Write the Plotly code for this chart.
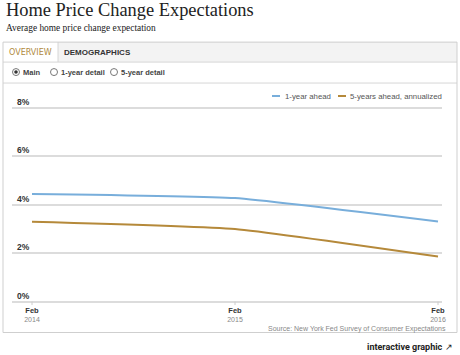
import plotly.graph_objects as go

# ---- data ----
dates = ["Feb 2014", "Feb 2015", "Feb 2016"]
tick_month = ["Feb", "Feb", "Feb"]
tick_year = ["2014", "2015", "2016"]
one_year = [4.45, 4.28, 3.31]
five_year = [3.30, 3.00, 1.86]
series_names = ["1-year ahead", "5-years ahead, annualized"]
series_colors = ["#78aedb", "#b5893a"]
y_ticks = [0, 2, 4, 6, 8]

W, H = 460, 355
PXU = 24.25          # pixels per 1 %
Y0 = 302             # pixel row of 0 %
L, R, T = 12, 442, 100
YMIN = -0.1
B = Y0 - YMIN * PXU


def px(x):
    return (x - L) / (R - L)


def py(y):
    return (B - y) / (B - T)


xi = list(range(len(dates)))
fig = go.Figure()
for name, vals, col in zip(series_names, [one_year, five_year], series_colors):
    fig.add_trace(go.Scatter(x=xi, y=vals, mode="lines", name=name,
                             line=dict(color=col, width=2, shape="spline", smoothing=0.4),
                             hoverinfo="skip"))

shapes = []
annotations = []
SANS = "Liberation Sans, Arial, sans-serif"

# panel chrome
shapes.append(dict(type="rect", xref="paper", yref="paper", x0=px(3), x1=px(457), y0=py(42), y1=py(62),
                   fillcolor="#f3f3f3", line=dict(width=0), layer="below"))
shapes.append(dict(type="rect", xref="paper", yref="paper", x0=px(3), x1=px(58), y0=py(42), y1=py(62),
                   fillcolor="#ffffff", line=dict(width=0), layer="below"))
shapes.append(dict(type="line", xref="paper", yref="paper", x0=px(58), x1=px(58), y0=py(42), y1=py(62),
                   line=dict(color="#d6d6d6", width=1)))
shapes.append(dict(type="line", xref="paper", yref="paper", x0=px(3), x1=px(457), y0=py(62), y1=py(62),
                   line=dict(color="#d6d6d6", width=1)))
shapes.append(dict(type="line", xref="paper", yref="paper", x0=px(3), x1=px(457), y0=py(83), y1=py(83),
                   line=dict(color="#d6d6d6", width=1)))
shapes.append(dict(type="rect", xref="paper", yref="paper", x0=px(3), x1=px(457), y0=py(42), y1=py(333),
                   line=dict(color="#cfcfcf", width=1), fillcolor="rgba(0,0,0,0)"))

# radio buttons
radio_labels = ["Main", "1-year detail", "5-year detail"]
radio_x = [16, 54, 114]
for i, (lab, rx) in enumerate(zip(radio_labels, radio_x)):
    shapes.append(dict(type="circle", xref="paper", yref="paper", x0=px(rx - 3.5), x1=px(rx + 3.5),
                       y0=py(72 + 3.5), y1=py(72 - 3.5), line=dict(color="#777", width=1), fillcolor="white"))
    if i == 0:
        shapes.append(dict(type="circle", xref="paper", yref="paper", x0=px(rx - 1.8), x1=px(rx + 1.8),
                           y0=py(72 + 1.8), y1=py(72 - 1.8), line=dict(width=0), fillcolor="#333"))
    annotations.append(dict(text="<b>" + lab + "</b>", xref="paper", yref="paper", x=px(rx + 5), y=py(72.5),
                            xanchor="left", yanchor="middle", showarrow=False,
                            font=dict(family=SANS, size=7.5, color="#444")))

# tabs
annotations.append(dict(text="OVERVIEW", xref="paper", yref="paper", x=px(30.5), y=py(52), xanchor="center",
                        yanchor="middle", showarrow=False,
                        font=dict(family="DejaVu Sans, sans-serif", size=8, color="#b08a3e")))
annotations.append(dict(text="<b>DEMOGRAPHICS</b>", xref="paper", yref="paper", x=px(97), y=py(52),
                        xanchor="center", yanchor="middle", showarrow=False,
                        font=dict(family=SANS, size=8, color="#333")))

# title & subtitle
SERIF = "Liberation Serif, Times New Roman, serif"
annotations.append(dict(text="Home Price Change Expectations", xref="paper", yref="paper", x=px(4), y=py(10),
                        xanchor="left", yanchor="middle", showarrow=False,
                        font=dict(family=SERIF, size=18.4, color="#222")))
annotations.append(dict(text="Average home price change expectation", xref="paper", yref="paper", x=px(4),
                        y=py(28), xanchor="left", yanchor="middle", showarrow=False,
                        font=dict(family=SERIF, size=9.4, color="#222")))

# legend (manual)
leg_items = [(272, 283, 0), (338, 348, 1)]
for x0, tx, k in leg_items:
    shapes.append(dict(type="line", xref="paper", yref="paper", x0=px(x0), x1=px(x0 + 8), y0=py(96), y1=py(96),
                       line=dict(color=series_colors[k], width=2)))
    annotations.append(dict(text=series_names[k], xref="paper", yref="paper", x=px(tx), y=py(96),
                            xanchor="left", yanchor="middle", showarrow=False,
                            font=dict(family=SANS, size=7.8, color="#555")))

# y tick labels (above gridlines, inside plot)
for v in y_ticks:
    annotations.append(dict(text="<b>%d%%</b>" % v, xref="paper", yref="y", x=px(15), y=v, yshift=6,
                            xanchor="left", yanchor="middle", showarrow=False,
                            font=dict(family=SANS, size=8.5, color="#333")))

# x tick marks
for x in xi:
    shapes.append(dict(type="line", xref="x", yref="paper", x0=x, x1=x, y0=py(Y0), y1=py(Y0 + 3.5),
                       line=dict(color="#cccccc", width=1)))

# source & footer
annotations.append(dict(text="Source: New York Fed Survey of Consumer Expectations", xref="paper", yref="paper",
                        x=px(448), y=py(329), xanchor="right", yanchor="middle", showarrow=False,
                        font=dict(family=SANS, size=7, color="#888")))
annotations.append(dict(text="<b>interactive graphic</b> ↗", xref="paper", yref="paper",
                        x=px(455), y=py(348), xanchor="right", yanchor="middle", showarrow=False,
                        font=dict(family="Roboto, sans-serif", size=9, color="#222")))

tick_text = ["<b>%s</b><br><span style='color:#888;font-size:7px'>%s</span>" % (m, y)
             for m, y in zip(tick_month, tick_year)]

fig.update_layout(
    width=W, height=H,
    margin=dict(l=L, r=W - R, t=T, b=H - B, pad=0),
    paper_bgcolor="white", plot_bgcolor="white",
    showlegend=False,
    shapes=shapes, annotations=annotations,
    xaxis=dict(range=[(L - 32) / 203, 2 + (R - 438) / 203], tickvals=xi, ticktext=tick_text,
               showgrid=False, zeroline=False, showline=False, ticks="", ticklen=0,
               tickfont=dict(family=SANS, size=7.5, color="#333"), fixedrange=True),
    yaxis=dict(range=[YMIN, (Y0 - T) / PXU], tickvals=y_ticks, showticklabels=False,
               showgrid=True, gridcolor="#dcdcdc", gridwidth=2,
               zeroline=True, zerolinecolor="#dcdcdc", zerolinewidth=2, showline=False,
               fixedrange=True),
)

fig.write_html("out.html", config={"displayModeBar": False},
               post_script="document.body.style.margin='0';")
